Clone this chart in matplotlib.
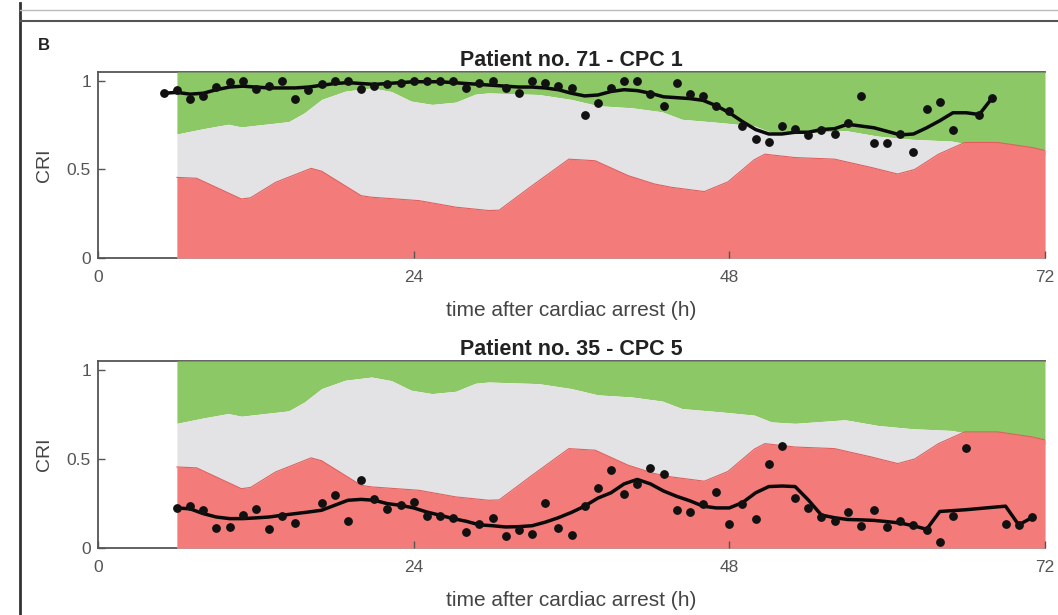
import matplotlib
matplotlib.use('Agg')
import matplotlib.pyplot as plt
from matplotlib.lines import Line2D

plt.rcParams['font.family'] = ['Liberation Sans', 'DejaVu Sans']

# population thresholds (shared by both patients)
upper_h = [6, 8, 9.9, 10.9, 12.7, 14.5, 15.7, 17.0, 18.8, 20.8, 22.3, 23.8, 25.4, 27.2,
           28.7, 29.7, 33.5, 36.0, 38.0, 40.6, 42.9, 44.4, 47.4, 49.9, 51.2, 53.0, 56.8,
           59.3, 61.9, 64.9, 66.4, 68.4, 71.0, 72]
upper_v = [0.70, 0.73, 0.755, 0.74, 0.755, 0.77, 0.82, 0.895, 0.942, 0.96, 0.94, 0.886,
           0.867, 0.88, 0.925, 0.932, 0.923, 0.895, 0.86, 0.848, 0.825, 0.783, 0.764,
           0.746, 0.708, 0.70, 0.72, 0.688, 0.67, 0.66, 0.64, 0.63, 0.60, 0.58]

lower_h = [6, 7.5, 10.9, 11.6, 13.5, 16.2, 17.0, 20.0, 20.8, 24.4, 27.2, 29.7, 30.5, 33.0,
           35.8, 37.8, 40.3, 42.3, 43.6, 46.1, 47.9, 49.9, 50.7, 53.0, 56.0, 58.8, 60.8,
           62.1, 63.9, 65.9, 68.4, 71.0, 72]
lower_v = [0.455, 0.45, 0.333, 0.34, 0.427, 0.506, 0.49, 0.352, 0.343, 0.324, 0.287,
           0.268, 0.27, 0.408, 0.558, 0.549, 0.465, 0.418, 0.399, 0.375, 0.43, 0.555,
           0.586, 0.567, 0.558, 0.511, 0.474, 0.50, 0.586, 0.652, 0.652, 0.624, 0.607]

# patient 71 (CPC 1)
p71_dot_h = [5, 6, 7, 8, 9, 10, 11, 12, 13, 14, 15, 16, 17, 18, 19, 20, 21, 22, 23, 24,
             25, 26, 27, 28, 29, 30, 31, 32, 33, 34, 35, 36, 37, 38, 39, 40, 41, 42, 43,
             44, 45, 46, 47, 48, 49, 50, 51, 52, 53, 54, 55, 56, 57, 58, 59, 60, 61, 62,
             63, 64, 65, 67, 68]
p71_dot_v = [0.93, 0.95, 0.90, 0.915, 0.965, 0.995, 1.0, 0.952, 0.97, 0.998, 0.898, 0.95,
             0.985, 1.0, 1.0, 0.952, 0.97, 0.98, 0.99, 1.0, 1.0, 1.0, 0.998, 0.96, 0.99,
             1.0, 0.96, 0.933, 1.0, 0.99, 0.97, 0.96, 0.81, 0.876, 0.96, 1.0, 1.0, 0.923,
             0.858, 0.99, 0.923, 0.914, 0.858, 0.83, 0.745, 0.67, 0.657, 0.745, 0.73,
             0.693, 0.72, 0.70, 0.764, 0.912, 0.652, 0.652, 0.70, 0.60, 0.839, 0.88,
             0.723, 0.81, 0.905]
p71_line_h = list(range(5, 69))
p71_line_v = [0.93, 0.935, 0.925, 0.93, 0.95, 0.965, 0.97, 0.965, 0.96, 0.96, 0.96, 0.965,
              0.975, 0.985, 0.99, 0.985, 0.98, 0.985, 0.99, 0.995, 0.995, 0.995, 0.99,
              0.985, 0.98, 0.975, 0.97, 0.965, 0.965, 0.96, 0.95, 0.93, 0.915, 0.92, 0.94,
              0.95, 0.945, 0.93, 0.91, 0.905, 0.90, 0.89, 0.86, 0.82, 0.77, 0.725, 0.70,
              0.70, 0.71, 0.71, 0.725, 0.73, 0.755, 0.745, 0.735, 0.715, 0.695, 0.70,
              0.735, 0.775, 0.82, 0.82, 0.81, 0.905]

# patient 35 (CPC 5)
p35_dot_h = [6, 7, 8, 9, 10, 11, 12, 13, 14, 15, 17, 18, 19, 20, 21, 22, 23, 24, 25, 26,
             27, 28, 29, 30, 31, 32, 33, 34, 35, 36, 37, 38, 39, 40, 41, 42, 43, 44, 45,
             46, 47, 48, 49, 50, 51, 52, 53, 54, 55, 56, 57, 58, 59, 60, 61, 62, 63, 64,
             65, 66, 69, 70, 71]
p35_dot_v = [0.225, 0.238, 0.212, 0.11, 0.118, 0.185, 0.218, 0.108, 0.18, 0.142, 0.25,
             0.30, 0.152, 0.38, 0.277, 0.217, 0.24, 0.258, 0.18, 0.178, 0.17, 0.092, 0.137,
             0.17, 0.067, 0.099, 0.08, 0.255, 0.112, 0.075, 0.236, 0.337, 0.436, 0.305,
             0.361, 0.449, 0.417, 0.212, 0.20, 0.249, 0.315, 0.137, 0.249, 0.165, 0.474,
             0.571, 0.283, 0.225, 0.174, 0.15, 0.202, 0.124, 0.212, 0.118, 0.15, 0.13,
             0.099, 0.034, 0.18, 0.564, 0.137, 0.127, 0.174]
p35_line_h = list(range(6, 67)) + [69, 70, 71]
p35_line_v = [0.225, 0.22, 0.193, 0.174, 0.165, 0.165, 0.169, 0.174, 0.184, 0.193, 0.202,
              0.212, 0.24, 0.268, 0.273, 0.268, 0.249, 0.24, 0.225, 0.202, 0.184, 0.165,
              0.15, 0.13, 0.125, 0.118, 0.12, 0.125, 0.145, 0.17, 0.20, 0.235, 0.28, 0.31,
              0.36, 0.385, 0.36, 0.32, 0.29, 0.265, 0.235, 0.225, 0.225, 0.255, 0.31,
              0.345, 0.348, 0.345, 0.27, 0.185, 0.17, 0.16, 0.158, 0.155, 0.148, 0.14,
              0.125, 0.105, 0.205, 0.21, 0.215, 0.235, 0.13, 0.17]

GREEN = '#8CC865'
GRAY = '#E3E3E5'
RED = '#F37C7A'
TICK_COL = '#555555'


def draw_panel(ax, dot_h, dot_v, line_h, line_v, title):
    ax.fill_between(upper_h, upper_v, 1.05, color=GREEN, lw=0, zorder=1)
    ax.fill_between(upper_h, 0, upper_v, color=GRAY, lw=0, zorder=1)
    ax.fill_between(lower_h, 0, lower_v, color=RED, lw=0, zorder=1.1)
    ax.plot(lower_h, lower_v, color='#E0605E', lw=0.8, zorder=1.2)
    ax.plot(line_h, line_v, color='#0a0a0a', lw=2.5, zorder=3)
    ax.plot(dot_h, dot_v, 'o', color='#111111', ms=5.3, zorder=4)

    ax.set_xlim(0, 72)
    ax.set_ylim(0, 1.05)
    ax.set_xticks([0, 24, 48, 72])
    ax.set_yticks([0, 0.5, 1])
    ax.set_yticklabels(['0', '0.5', '1'])
    ax.tick_params(axis='both', direction='in', length=5, width=1, color=TICK_COL,
                   labelcolor=TICK_COL, labelsize=12.5)
    ax.tick_params(axis='x', pad=9)
    ax.tick_params(axis='y', pad=5)
    for side in ['left', 'bottom', 'top']:
        ax.spines[side].set_color('#555555')
        ax.spines[side].set_linewidth(1.3)
        ax.spines[side].set_zorder(0.5)
    ax.spines['right'].set_visible(False)

    ax.set_title(title, fontsize=15.5, fontweight='bold', color='#222222', pad=4)
    ax.set_xlabel('time after cardiac arrest (h)', fontsize=15, color='#444444', labelpad=11)
    ax.set_ylabel('CRI', fontsize=14, color='#444444', labelpad=10)


fig = plt.figure(figsize=(10.58, 6.15), dpi=100)

ax1 = fig.add_axes([98 / 1058, 1 - 258 / 615, 947 / 1058, 186 / 615])
draw_panel(ax1, p71_dot_h, p71_dot_v, p71_line_h, p71_line_v, 'Patient no. 71 - CPC 1')

ax2 = fig.add_axes([98 / 1058, 1 - 548 / 615, 947 / 1058, 187 / 615])
draw_panel(ax2, p35_dot_h, p35_dot_v, p35_line_h, p35_line_v, 'Patient no. 35 - CPC 5')

# panel frame and letter
fig.add_artist(Line2D([20 / 1058, 20 / 1058], [0, 1 - 3 / 615], color='#333333', lw=2))
fig.add_artist(Line2D([20 / 1058, 1], [1 - 10 / 615, 1 - 10 / 615], color='#bbbbbb', lw=1))
fig.add_artist(Line2D([20 / 1058, 1], [1 - 21 / 615, 1 - 21 / 615], color='#555555', lw=1.5))
fig.text(38 / 1058, 1 - 45 / 615, 'B', fontsize=12, fontweight='bold', color='#222222',
         va='center', ha='left')

fig.savefig('out.png', dpi=100, facecolor='white')
plt.close(fig)
